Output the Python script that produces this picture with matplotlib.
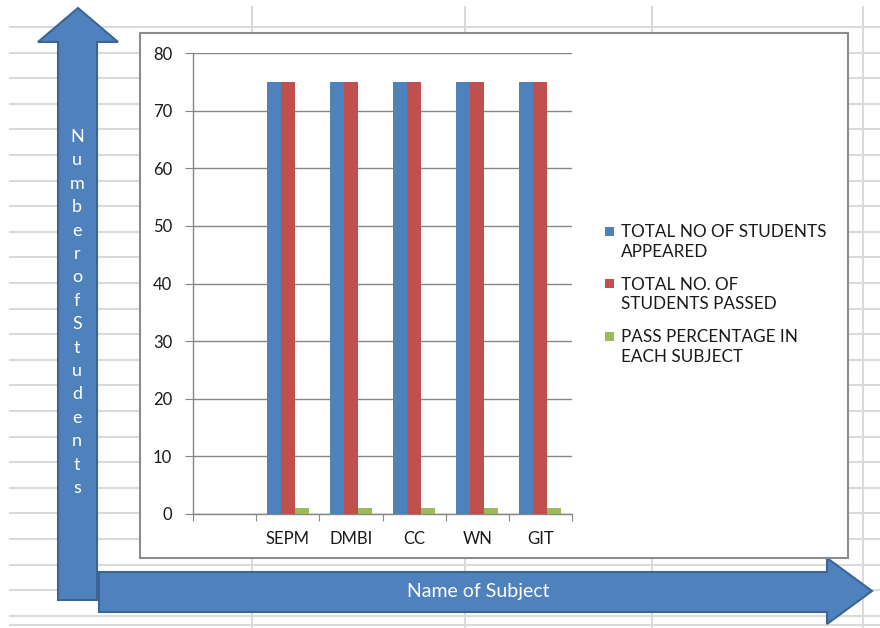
import numpy as np
import matplotlib
matplotlib.use("Agg")
import matplotlib.pyplot as plt
from matplotlib.patches import Polygon, Rectangle

plt.rcParams['font.family'] = ['Lato', 'DejaVu Sans']

# data (first category slot is blank in the sheet)
subjects = ["", "SEPM", "DMBI", "CC", "WN", "GIT"]
appeared = [np.nan, 75, 75, 75, 75, 75]
passed = [np.nan, 75, 75, 75, 75, 75]
pass_pct = [np.nan, 1, 1, 1, 1, 1]
series_names = ["TOTAL NO OF STUDENTS\nAPPEARED",
                "TOTAL NO. OF\nSTUDENTS PASSED",
                "PASS PERCENTAGE IN\nEACH SUBJECT"]
colors = ["#4F81BD", "#C0504D", "#9BBB59"]
y_ticks = [0, 10, 20, 30, 40, 50, 60, 70, 80]

W, H = 880, 628
fig = plt.figure(figsize=(W / 100, H / 100), dpi=100)

# background: spreadsheet cells, arrows and chart frame, in pixel coords
bg = fig.add_axes([0, 0, 1, 1])
bg.set_xlim(0, W)
bg.set_ylim(H, 0)
bg.axis('off')

grid_c = "#DADADA"
for gy in np.arange(27, 626, 25.6):
    bg.plot([10, W], [gy, gy], color=grid_c, lw=1.5, zorder=1)
bg.plot([10, W], [625, 625], color=grid_c, lw=1.5, zorder=1)
for gx in [252, 465, 652, 863]:
    bg.plot([gx, gx], [7, H], color=grid_c, lw=1.5, zorder=1)

arrow_fc = "#4F81BD"
arrow_ec = "#3A6595"
up_arrow = [(58, 600), (58, 42), (38, 42), (78, 8), (118, 42), (97, 42), (97, 600)]
bg.add_patch(Polygon(up_arrow, closed=True, fc=arrow_fc, ec=arrow_ec, lw=1.5, zorder=2))
right_arrow = [(99, 572), (827, 572), (827, 558), (872, 591), (827, 624), (827, 612), (99, 612)]
bg.add_patch(Polygon(right_arrow, closed=True, fc=arrow_fc, ec=arrow_ec, lw=1.5, zorder=2))

bg.text(478, 591, "Name of Subject", color="white", fontsize=14,
        ha='center', va='center', zorder=3)
for i, ch in enumerate("NumberofStudents"):
    bg.text(77, 142 + i * 23.4, ch, color="white", fontsize=13,
            ha='center', va='baseline', zorder=3)

bg.add_patch(Rectangle((140, 33), 708, 525, fc="white", ec="#8C8C8C", lw=1.5, zorder=4))

# legend drawn in pixel coords like the Excel legend
for i, (name, c) in enumerate(zip(series_names, colors)):
    ly = 231 + i * 52.5
    bg.add_patch(Rectangle((605, ly - 4.5), 9, 9, fc=c, ec='none', zorder=5))
    bg.text(621, ly - 7, name, fontsize=12.3, color="#1A1A1A", ha='left', va='top',
            linespacing=1.3, zorder=5)

# chart plot area
ax = fig.add_axes([193 / W, 1 - 514 / H, (572 - 193) / W, (514 - 53) / H])
ax.set_facecolor('none')
x = np.arange(len(subjects))
bw = 0.222
for k, (vals, c) in enumerate(zip([appeared, passed, pass_pct], colors)):
    ax.bar(x + (k - 1) * bw, vals, width=bw, color=c, zorder=3)

ax.set_xlim(-0.5, len(subjects) - 0.5)
ax.set_ylim(0, 80)
ax.set_yticks(y_ticks)
ax.set_yticklabels([str(t) for t in y_ticks])
ax.yaxis.grid(True, color="#868686", lw=1)
ax.set_axisbelow(True)
ax.set_xticks(np.arange(len(subjects) + 1) - 0.5)
ax.set_xticklabels([])
ax.set_xticks(x, minor=True)
ax.set_xticklabels(subjects, minor=True)
ax.tick_params(axis='x', which='major', length=5, color="#868686", direction='out')
ax.tick_params(axis='x', which='minor', length=0, pad=12, labelsize=12, labelcolor="#1A1A1A")
ax.tick_params(axis='y', length=6, color="#868686", pad=9, labelsize=12, labelcolor="#1A1A1A")
for s in ['top', 'right']:
    ax.spines[s].set_visible(False)
for s in ['left', 'bottom']:
    ax.spines[s].set_color("#868686")
    ax.spines[s].set_linewidth(1)

fig.savefig("out.png", dpi=100)
